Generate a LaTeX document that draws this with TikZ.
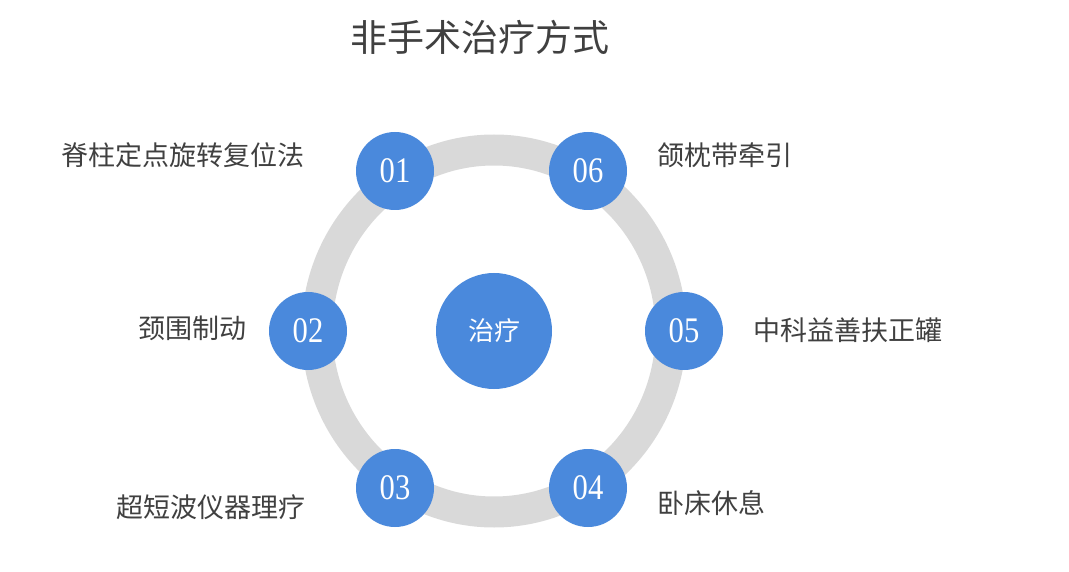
\documentclass[tikz,border=0pt]{standalone}
\usepackage{fontspec}
\newfontfamily\cjk{Noto Sans CJK SC}
\newfontfamily\numfont[FakeStretch=0.85]{Liberation Serif}
\definecolor{bluec}{HTML}{4A89DC}
\definecolor{ringc}{HTML}{D9D9D9}
\definecolor{txtc}{HTML}{404040}
\tikzset{
  numc/.style={circle, fill=bluec, minimum size=78pt, inner sep=0pt, text=white, font=\numfont\fontsize{36}{36}\selectfont},
  lbl/.style={text=txtc, font=\cjk\fontsize{27}{27}\selectfont, inner sep=0pt},
}
\begin{document}
\begin{tikzpicture}[x=1pt,y=-1pt]
\useasboundingbox (0,0) rectangle (1069,572);
\node[text=txtc, font=\cjk\fontsize{37}{37}\selectfont, inner sep=0pt] (title) at (480,37) {非手术治疗方式};
\coordinate (c) at (494,331);
\draw[ringc, line width=31pt] (c) ellipse [x radius=177, y radius=181];
\node[circle, fill=bluec, minimum size=116pt, inner sep=0pt, text=white, font=\cjk\fontsize{26}{26}\selectfont] (center) at (c) {治疗};
\node[numc] (n1) at (395,171) {01};
\node[numc] (n2) at (308,331) {02};
\node[numc] (n3) at (395,488) {03};
\node[numc] (n4) at (588,488) {04};
\node[numc] (n5) at (684,331) {05};
\node[numc] (n6) at (588,171) {06};
\node[lbl, anchor=east] (l1) at (305,155) {脊柱定点旋转复位法};
\node[lbl, anchor=east] (l2) at (247,328) {颈围制动};
\node[lbl, anchor=east] (l3) at (306,507) {超短波仪器理疗};
\node[lbl, anchor=west] (l4) at (657,503) {卧床休息};
\node[lbl, anchor=west] (l5) at (753,330) {中科益善扶正罐};
\node[lbl, anchor=west] (l6) at (657,155) {颌枕带牵引};
\end{tikzpicture}
\end{document}
